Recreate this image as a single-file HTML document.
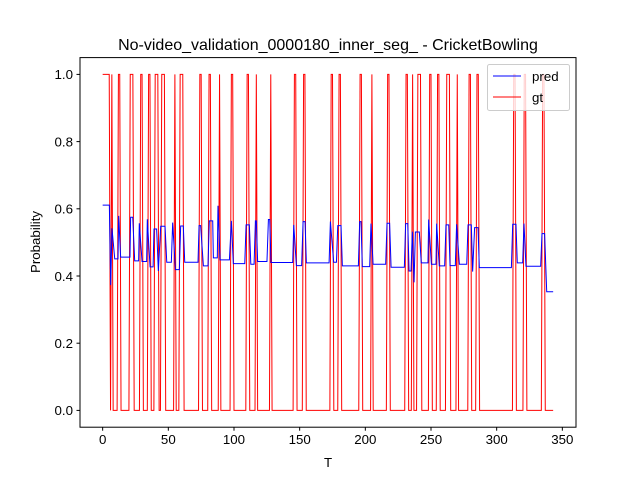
<!DOCTYPE html>
<html><head><meta charset="utf-8"><style>
body{margin:0;background:#fff}
svg{display:block;font-family:"Liberation Sans","DejaVu Sans",sans-serif}
</style></head><body>
<svg id="chart" width="640" height="480">
<rect x="0" y="0" width="640" height="480" fill="#fff"/>
<text x="328" y="50" font-size="16" text-anchor="middle">No-video_validation_0000180_inner_seg_ - CricketBowling</text>
<g id="plot"></g>
<text x="328" y="467" font-size="13.3" text-anchor="middle">T</text>
<text x="0" y="0" font-size="13.3" text-anchor="middle" transform="translate(40,242) rotate(-90)">Probability</text>
<g>
<rect x="487.5" y="64.5" width="82" height="46" rx="2" fill="#fff" fill-opacity="0.8" stroke="#ccc"/>
<line x1="493" y1="76" x2="521" y2="76" stroke="#0000ff" stroke-width="1"/>
<text x="532" y="81" font-size="13.3">pred</text>
<line x1="493" y1="97" x2="521" y2="97" stroke="#ff0000" stroke-width="1"/>
<text x="532" y="102" font-size="13.3">gt</text>
</g>
</svg>
<script>
const xTicks=[0,50,100,150,200,250,300,350];
const yTicks=[0,0.2,0.4,0.6,0.8,1.0];
const yTickLabels=["0.0","0.2","0.4","0.6","0.8","1.0"];
const nFrames=344;
const gtStart=[0,7,12,21,29,35,40,45,55,59,74,81,89,98,110,117,128,146,153,174,180,196,205,217,231,236,240,249,255,262,270,279,285,313,321,335];
const gtEnd=[5,7,13,23,30,36,42,47,55,61,75,82,89,99,111,117,128,147,154,175,181,197,205,218,232,236,242,250,256,264,270,280,286,314,322,336];
const predT=[0,5.1,6.1,7.1,9.2,11.7,12.2,13.7,20.8,21.3,22.9,24.4,27.4,27.9,30,33.5,34,36.1,38.4,39.1,41.1,42.4,44.2,47.5,48.8,52.3,53.3,55.4,58.4,59.4,61.4,62.5,72.6,73.4,74.6,76.7,80.2,81.2,83.8,84.3,87.3,87.8,89.4,96.5,98,99.5,108.2,109.2,111.7,112.8,115.3,116.3,117,118,125.1,126.2,127.2,128.2,144.7,145.5,147.5,151.5,152.6,154.1,155.1,172.4,173.4,175.9,178,179,181.5,182.5,194.7,195.7,196.7,197.7,203.3,204.3,205.9,215.5,216.5,218.5,219.6,229.7,230.7,232.3,233.3,234.8,235.8,237.1,238.1,241.1,242.6,247.7,248.2,250.3,253.8,254.3,256.3,260.4,261.4,263.5,264.5,268.5,269.5,271.6,277.2,278.2,280.7,281.7,283.2,285.8,286.8,311.2,312.2,314.7,315.7,319.8,320.8,322.3,333.5,334.5,336.5,338.1,343];
const predV=[0.611,0.611,0.373,0.542,0.451,0.451,0.579,0.456,0.456,0.575,0.575,0.445,0.445,0.557,0.443,0.443,0.569,0.427,0.427,0.540,0.540,0.415,0.548,0.548,0.441,0.441,0.559,0.419,0.419,0.549,0.549,0.441,0.441,0.550,0.550,0.430,0.430,0.564,0.564,0.454,0.454,0.609,0.448,0.448,0.564,0.437,0.437,0.552,0.552,0.435,0.435,0.564,0.564,0.443,0.443,0.568,0.568,0.440,0.440,0.552,0.431,0.431,0.562,0.562,0.439,0.439,0.562,0.441,0.441,0.550,0.550,0.430,0.430,0.562,0.562,0.428,0.428,0.556,0.435,0.435,0.557,0.557,0.426,0.426,0.556,0.556,0.415,0.415,0.532,0.381,0.531,0.531,0.439,0.439,0.568,0.435,0.435,0.556,0.430,0.430,0.552,0.552,0.431,0.431,0.554,0.435,0.435,0.552,0.552,0.413,0.544,0.544,0.425,0.425,0.554,0.554,0.439,0.439,0.556,0.429,0.429,0.526,0.526,0.353,0.353];

const L=80,R=576,T=57.6,B=427.2;
const xMin=-17.25,xMax=360.4,yMin=-0.05,yMax=1.05;
function xs(v){return L+(v-xMin)/(xMax-xMin)*(R-L);}
function ys(v){return B-(v-yMin)/(yMax-yMin)*(B-T);}
const NS="http://www.w3.org/2000/svg";
const plot=document.getElementById('plot');
function mk(tag,attrs,parent){const e=document.createElementNS(NS,tag);for(const k in attrs)e.setAttribute(k,attrs[k]);(parent||plot).appendChild(e);return e;}

// gt series
const gt=new Array(nFrames).fill(0);
for(let i=0;i<gtStart.length;i++){for(let f=gtStart[i];f<=gtEnd[i];f++)gt[f]=1;}
let gp=gt.map((v,i)=>xs(i).toFixed(2)+','+ys(v).toFixed(2)).join(' ');
const gtLine=mk('polyline',{points:gp,fill:'none',stroke:'#ff0000','stroke-width':1});



// pred series
let pp=predT.map((t,i)=>xs(t).toFixed(2)+','+ys(predV[i]).toFixed(2)).join(' ');
const predLine=mk('polyline',{points:pp,fill:'none',stroke:'#0000ff','stroke-width':1});



// axes frame
const frame=mk('rect',{x:L,y:T,width:R-L,height:B-T,fill:'none',stroke:'#000','stroke-width':1});



xTicks.forEach(v=>{
  const x=xs(v);
  const t=mk('line',{x1:x,y1:B,x2:x,y2:B+3.5,stroke:'#000'});
  
  
  const lb=mk('text',{x:x,y:B+17,'font-size':13.3,'text-anchor':'middle'});
  lb.textContent=String(v);
  
  
});
yTicks.forEach((v,i)=>{
  const y=ys(v);
  const t=mk('line',{x1:L-3.5,y1:y,x2:L,y2:y,stroke:'#000'});
  
  
  const lb=mk('text',{x:L-7,y:y+4.8,'font-size':13.3,'text-anchor':'end'});
  lb.textContent=yTickLabels[i];
  
  
});
</script>
</body></html>
